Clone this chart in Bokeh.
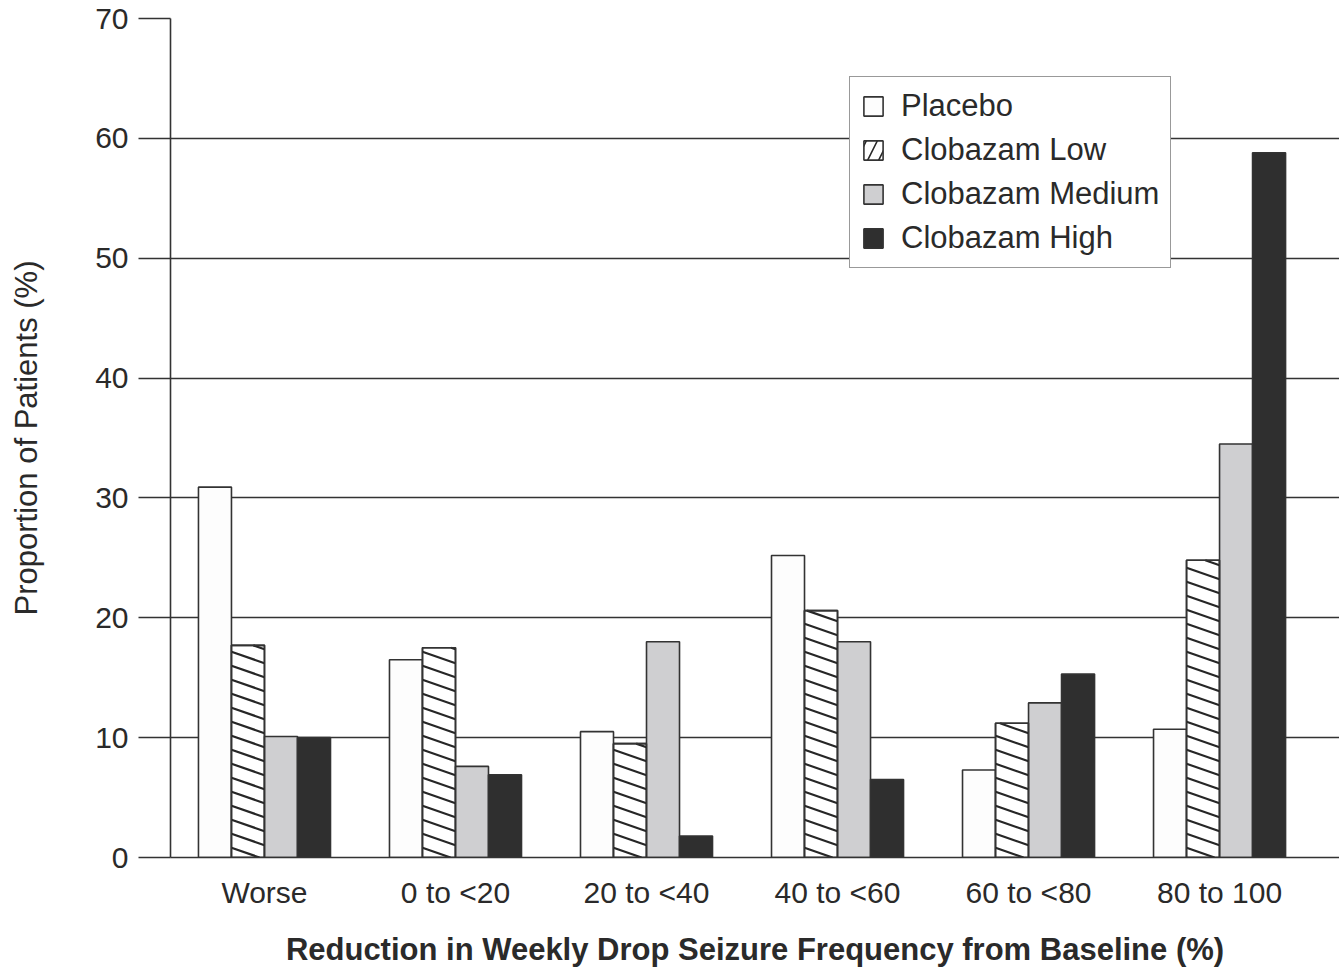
import numpy as np
from bokeh.plotting import figure
from bokeh.models import (ColumnDataSource, Legend, LegendItem, FixedTicker, Range1d)
from bokeh.transform import dodge
from bokeh.embed import file_html
from bokeh.resources import INLINE

# ---- data ----
categories = ["Worse", "0 to <20", "20 to <40", "40 to <60", "60 to <80", "80 to 100"]
series_names = ["Placebo", "Clobazam Low", "Clobazam Medium", "Clobazam High"]
placebo = [30.9, 16.5, 10.5, 25.2, 7.3, 10.7]
clobazam_low = [17.7, 17.5, 9.5, 20.6, 11.2, 24.8]
clobazam_medium = [10.1, 7.6, 18.0, 18.0, 12.9, 34.5]
clobazam_high = [10.0, 6.9, 1.8, 6.5, 15.3, 58.8]
y_ticks = [0, 10, 20, 30, 40, 50, 60, 70]

# ---- styles ----
FONT = "Liberation Sans"
TXT = "#2a2a2a"
EDGE = "#333333"
W, H = 1339, 971
FRAME_L, FRAME_T, FRAME_B = 170, 18, 857
bar_w = 0.1728
x0_range, x1_range = -0.492, 5.628
y0_range, y1_range = 0, 70
px_x = (W - FRAME_L) / (x1_range - x0_range)
px_y = (FRAME_B - FRAME_T) / (y1_range - y0_range)

src = ColumnDataSource(dict(
    x=list(range(len(categories))),
    placebo=placebo, low=clobazam_low, medium=clobazam_medium, high=clobazam_high,
))

p = figure(width=W, height=H, output_backend="svg", toolbar_location=None,
           x_range=Range1d(x0_range, x1_range), y_range=Range1d(y0_range, y1_range),
           min_border_left=FRAME_L, min_border_right=0, min_border_top=FRAME_T,
           min_border_bottom=H - FRAME_B)
p.outline_line_color = None
p.background_fill_color = "white"
p.border_fill_color = "white"

common = dict(source=src, width=bar_w, bottom=0, line_color=EDGE, line_width=1.6)
r_pl = p.vbar(x=dodge("x", -1.5 * bar_w), top="placebo", fill_color="#fdfdfd", **common)
r_lo = p.vbar(x=dodge("x", -0.5 * bar_w), top="low", fill_color="white", **common)
r_me = p.vbar(x=dodge("x", 0.5 * bar_w), top="medium", fill_color="#cfcfd1", **common)
r_hi = p.vbar(x=dodge("x", 1.5 * bar_w), top="high", fill_color="#2f2f2f", **common)

# shallow diagonal hatch inside the "Low" bars, derived from the bar values
slope = (0.35 * px_x) / px_y          # data-units drop per x-unit
gap = 14.0 / px_y                      # vertical spacing in data units
hx0, hy0, hx1, hy1 = [], [], [], []
for i, h in enumerate(clobazam_low):
    xl = i - 0.5 * bar_w - bar_w / 2
    xr = xl + bar_w
    k_max = int(np.ceil((h + slope * bar_w) / gap)) + 1
    for k in range(1, k_max + 1):
        b = k * gap - gap * 0.3
        xa = max(xl, xl + (b - h) / slope)
        xb = min(xr, xl + b / slope)
        if xb - xa > 1e-6:
            hx0.append(xa); hy0.append(b - slope * (xa - xl))
            hx1.append(xb); hy1.append(b - slope * (xb - xl))
p.segment(x0=hx0, y0=hy0, x1=hx1, y1=hy1, line_color="#262626", line_width=2.2)
p.vbar(x=dodge("x", -0.5 * bar_w), top="low", source=src, width=bar_w, bottom=0,
       fill_color=None, line_color=EDGE, line_width=1.6)

# hidden proxy renderer that supplies the hatched legend swatch
r_lo_leg = p.vbar(x=dodge("x", -0.5 * bar_w), top="low", source=src, width=bar_w,
                  bottom=0, fill_color="white", line_color=EDGE, line_width=1.6,
                  hatch_pattern="/", hatch_color="#262626", hatch_scale=22,
                  hatch_weight=1.6, visible=False)

# ---- axes ----
p.xaxis.ticker = FixedTicker(ticks=list(range(len(categories))))
p.xaxis.major_label_overrides = {i: c for i, c in enumerate(categories)}
p.xaxis.major_tick_out = 0
p.xaxis.major_tick_in = 0
p.xaxis.minor_tick_line_color = None
p.xaxis.major_label_standoff = 18
p.xaxis.axis_label = "Reduction in Weekly Drop Seizure Frequency from Baseline (%)"
p.xaxis.axis_label_standoff = 20
p.xaxis.axis_label_text_font_style = "bold"
p.xaxis.axis_label_text_font_size = "31px"

p.yaxis.ticker = FixedTicker(ticks=y_ticks)
p.yaxis.major_tick_out = 32
p.yaxis.major_tick_in = 0
p.yaxis.minor_tick_line_color = None
p.yaxis.major_label_standoff = 10
p.yaxis.axis_label = "Proportion of Patients (%)"
p.yaxis.axis_label_standoff = 48
p.yaxis.axis_label_text_font_style = "normal"
p.yaxis.axis_label_text_font_size = "31px"

for ax in (p.xaxis, p.yaxis):
    ax.axis_line_color = EDGE
    ax.axis_line_width = 1.6
    ax.major_tick_line_color = EDGE
    ax.major_tick_line_width = 1.6
    ax.major_label_text_font = FONT
    ax.major_label_text_font_size = "30px"
    ax.major_label_text_color = TXT
    ax.axis_label_text_font = FONT
    ax.axis_label_text_color = TXT

p.xgrid.grid_line_color = None
p.ygrid.grid_line_color = EDGE
p.ygrid.grid_line_width = 1.4

legend = Legend(items=[
    LegendItem(label=series_names[0], renderers=[r_pl]),
    LegendItem(label=series_names[1], renderers=[r_lo_leg]),
    LegendItem(label=series_names[2], renderers=[r_me]),
    LegendItem(label=series_names[3], renderers=[r_hi]),
], location=(679, 589), margin=0, padding=11, spacing=8,
   glyph_width=24, glyph_height=24, label_standoff=16,
   label_text_font=FONT, label_text_font_size="31px", label_text_color=TXT,
   border_line_color=EDGE, border_line_width=1.6, background_fill_color="white",
   background_fill_alpha=1.0, inactive_fill_alpha=0.0)
p.add_layout(legend)

open("out.html", "w").write(file_html(p, INLINE))
